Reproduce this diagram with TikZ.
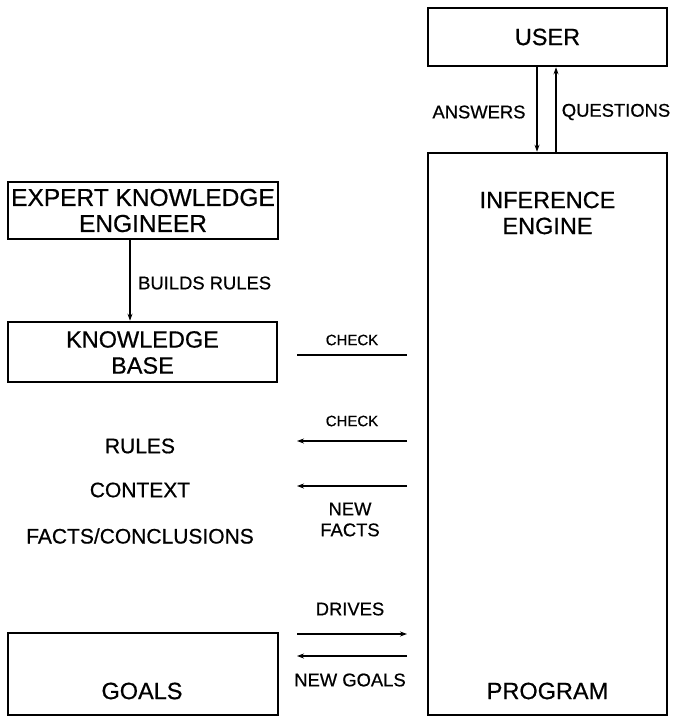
\documentclass[tikz,border=0pt]{standalone}
\usepackage{fontspec}
\setmainfont{Liberation Sans}[FakeBold=0.6]
\usetikzlibrary{arrows.meta}
\tikzset{
  box/.style={draw, line width=2.6pt, inner sep=0pt},
  big/.style={font=\fontsize{23.5}{26}\selectfont, align=center, inner sep=0pt},
  mid/.style={font=\fontsize{21}{24}\selectfont, inner sep=0pt},
  lab/.style={font=\fontsize{18.4}{21}\selectfont, inner sep=0pt},
  small/.style={font=\fontsize{15}{18}\selectfont, inner sep=0pt},
  conn/.style={line width=1.1pt},
  arr/.style={conn, -{Stealth[length=7pt,width=5pt]}}
}
\begin{document}
\begin{tikzpicture}[x=1pt,y=-1pt]
\useasboundingbox (0,0) rectangle (673,719);
% boxes
\node[box, minimum width=239pt, minimum height=58pt] (user) at (547.5,37) {};
\node[box, minimum width=239pt, minimum height=562pt] (eng) at (547.5,434) {};
\node[box, minimum width=270pt, minimum height=57pt] (exp) at (143,210.5) {};
\node[box, minimum width=269pt, minimum height=60pt] (kb) at (142.5,352) {};
\node[box, minimum width=270pt, minimum height=82pt] (goals) at (143,674) {};
% box texts
\node[big] (usert) at (547.5,37) {USER};
\node[big] (engt) at (547.5,213) {INFERENCE\\ENGINE};
\node[big] (progt) at (547.5,691) {PROGRAM};
\node[big, font=\fontsize{24.5}{26}\selectfont] (expt) at (143,210.5) {EXPERT KNOWLEDGE\\ENGINEER};
\node[big] (kbt) at (142.5,352.5) {KNOWLEDGE\\BASE};
\node[big] (goalst) at (142,691) {GOALS};
% free texts
\node[mid] (rules) at (140,446) {RULES};
\node[mid] (context) at (140,490) {CONTEXT};
\node[mid] (facts) at (140,536) {FACTS/CONCLUSIONS};
% user arrows
\draw[arr] ([xshift=-10.5pt]user.south) -- ([xshift=-10.5pt]eng.north);
\draw[arr] ([xshift=8.5pt]eng.north) -- ([xshift=8.5pt]user.south);
\node[lab] (ans) at (479,112) {ANSWERS};
\node[lab] (que) at (616,112) {QUESTIONS};
% builds rules
\draw[arr] ([xshift=-13pt]exp.south) -- ([xshift=-12.5pt]kb.north);
\node[lab, anchor=west] (br) at (138,283) {BUILDS RULES};
% horizontal connectors
\coordinate (c1a) at (297,355); \coordinate (c1b) at (407,355);
\coordinate (c2a) at (297,441); \coordinate (c2b) at (407,441);
\coordinate (c3a) at (297,486); \coordinate (c3b) at (407,486);
\coordinate (c4a) at (297,634); \coordinate (c4b) at (407,634);
\coordinate (c5a) at (297,656); \coordinate (c5b) at (407,656);
\draw[conn] (c1a) -- (c1b);
\node[small] (chk1) at (352,340) {CHECK};
\draw[arr] (c2b) -- (c2a);
\node[small] (chk2) at (352,421) {CHECK};
\draw[arr] (c3b) -- (c3a);
\node[lab, align=center] (nf) at (350,519.5) {NEW\\FACTS};
\draw[arr] (c4a) -- (c4b);
\node[lab] (drv) at (350,609) {DRIVES};
\draw[arr] (c5b) -- (c5a);
\node[lab] (ng) at (350,680) {NEW GOALS};
\end{tikzpicture}
\end{document}
